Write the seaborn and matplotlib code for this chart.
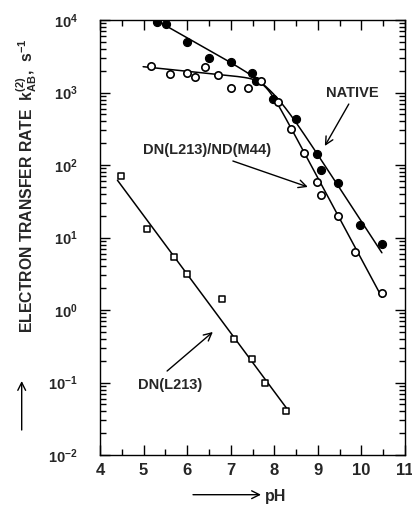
import numpy as np
import pandas as pd
import matplotlib
matplotlib.use("Agg")
import matplotlib.pyplot as plt
from matplotlib.ticker import FuncFormatter, LogLocator, MultipleLocator, NullFormatter
import seaborn as sns

# ---------------- data ----------------
native_ph = [5.31, 5.51, 6.00, 6.50, 7.00, 7.49, 7.58, 7.97, 8.49, 8.98, 9.08, 9.46, 9.96, 10.47]
native_k = [9480, 8700, 5000, 2960, 2600, 1880, 1440, 815, 430, 141, 85, 57, 14.9, 8.1]

mutant_ph = [5.16, 5.60, 5.99, 6.19, 6.40, 6.70, 7.00, 7.39, 7.69, 8.09, 8.39, 8.68, 8.97, 9.08, 9.46, 9.86, 10.47]
mutant_k = [2320, 1800, 1880, 1620, 2270, 1740, 1140, 1140, 1450, 747, 310, 148, 59, 38.5, 20, 6.3, 1.7]

dn_ph = [4.49, 5.09, 5.70, 5.99, 6.79, 7.07, 7.48, 7.78, 8.28]
dn_k = [71, 13.1, 5.3, 3.1, 1.42, 0.394, 0.21, 0.10, 0.040]

# fitted-curve parameters (log10 k asymptotes, smooth-min joined)
native_fit = dict(lo_ref=6.97, lo_val=3.425, lo_slope=-0.34,
                  hi_ref=8.98, hi_val=2.16, hi_slope=-0.92, sharp=3.0, start=5.26, end=10.47)
mutant_fit = dict(lo_ref=6.70, lo_val=3.25, lo_slope=-0.062,
                  hi_ref=8.68, hi_val=2.18, hi_slope=-1.12, sharp=3.0, start=4.99, end=10.47)
dn_fit = dict(ref=4.40, val=1.79, slope=-0.81, start=4.40, end=8.28)

xticks = [4, 5, 6, 7, 8, 9, 10, 11]


def curve(p, n=300):
    ph = np.linspace(p["start"], p["end"], n)
    a1 = p["lo_val"] + p["lo_slope"] * (ph - p["lo_ref"])
    a2 = p["hi_val"] + p["hi_slope"] * (ph - p["hi_ref"])
    m = p["sharp"]
    lg = -np.log10(10 ** (-m * a1) + 10 ** (-m * a2)) / m
    return pd.DataFrame({"pH": ph, "k": 10 ** lg})


def line(p, n=50):
    ph = np.linspace(p["start"], p["end"], n)
    return pd.DataFrame({"pH": ph, "k": 10 ** (p["val"] + p["slope"] * (ph - p["ref"]))})


# ---------------- style ----------------
sns.set_style("ticks")
plt.rcParams["font.family"] = ["Liberation Sans", "DejaVu Sans"]
plt.rcParams["font.weight"] = "bold"
plt.rcParams["axes.linewidth"] = 1.0

W, H = 412, 507
fig = plt.figure(figsize=(W / 100, H / 100), dpi=100)
L, R, T, B = 100, 405, 20, 455
ax = fig.add_axes([L / W, 1 - B / H, (R - L) / W, (B - T) / H])

# curves
sns.lineplot(data=curve(native_fit), x="pH", y="k", color="black", lw=1.1, ax=ax, sort=False)
sns.lineplot(data=curve(mutant_fit), x="pH", y="k", color="black", lw=1.1, ax=ax, sort=False)
sns.lineplot(data=line(dn_fit), x="pH", y="k", color="black", lw=1.1, ax=ax, sort=False)

# points
sns.scatterplot(x=native_ph, y=native_k, marker="o", s=34, color="black",
                edgecolor="black", linewidth=0.8, ax=ax, zorder=5)
sns.scatterplot(x=mutant_ph, y=mutant_k, marker="o", s=28, color="white",
                edgecolor="black", linewidth=1.2, ax=ax, zorder=5)
sns.scatterplot(x=dn_ph, y=dn_k, marker="s", s=16, color="white",
                edgecolor="black", linewidth=1.1, ax=ax, zorder=5)

ax.set_yscale("log")
ax.set_xlim(4, 11)
ax.set_ylim(1e-2, 1e4)
ax.set_xlabel("")
ax.set_ylabel("")

ax.set_xticks(xticks)
ax.xaxis.set_minor_locator(MultipleLocator(0.5))
ax.yaxis.set_major_locator(LogLocator(base=10, numticks=10))
ax.yaxis.set_minor_locator(LogLocator(base=10, subs=np.arange(2, 10), numticks=20))
ax.yaxis.set_major_formatter(FuncFormatter(lambda v, p: r"$\mathregular{10^{%d}}$" % round(np.log10(v))))
ax.yaxis.set_minor_formatter(NullFormatter())

ax.tick_params(which="both", direction="in", top=True, right=True, width=1.0, color="black")
ax.tick_params(which="major", length=7.5)
ax.tick_params(which="minor", length=4)
ax.tick_params(axis="x", which="major", labelsize=12, pad=6)
ax.tick_params(axis="y", which="major", labelsize=10.5, pad=16)
for lab in ax.get_xticklabels() + ax.get_yticklabels():
    lab.set_fontweight("bold")
for s in ax.spines.values():
    s.set_visible(True)
    s.set_color("black")

arrow = dict(arrowstyle="->", color="black", lw=1.0, shrinkA=0, shrinkB=0,
             mutation_scale=14)

ax.text(9.78, 985, "NATIVE", fontsize=10.5, fontweight="bold", ha="center", va="center")
ax.annotate("", xy=(9.16, 183), xytext=(9.71, 693), arrowprops=arrow)

ax.text(6.45, 161, "DN(L213)/ND(M44)", fontsize=10.5, fontweight="bold", ha="center", va="center")
ax.annotate("", xy=(8.77, 49.8), xytext=(7.05, 113.5), arrowprops=arrow)

ax.text(5.61, 0.0925, "DN(L213)", fontsize=10.5, fontweight="bold", ha="center", va="center")
ax.annotate("", xy=(6.59, 0.498), xytext=(5.54, 0.144), arrowprops=arrow)

# axis labels
fig.text(27 / W, 1 - 186 / H,
         r"ELECTRON TRANSFER RATE  $\mathregular{k_{AB}^{(2)}}$,  s$^{\mathregular{-1}}$",
         rotation=90, ha="center", va="center", fontsize=11.3, fontweight="bold")
ax.annotate("", xy=(21.7 / W, 1 - 381 / H), xytext=(21.7 / W, 1 - 430 / H),
            xycoords="figure fraction", textcoords="figure fraction", arrowprops=arrow)

ax.annotate("", xy=(261 / W, 1 - 494.7 / H), xytext=(193 / W, 1 - 494.7 / H),
            xycoords="figure fraction", textcoords="figure fraction", arrowprops=arrow)
fig.text(265 / W, 1 - 500.7 / H, "pH", ha="left", va="baseline", fontsize=11.5, fontweight="bold")

fig.savefig("out.png", dpi=100)
